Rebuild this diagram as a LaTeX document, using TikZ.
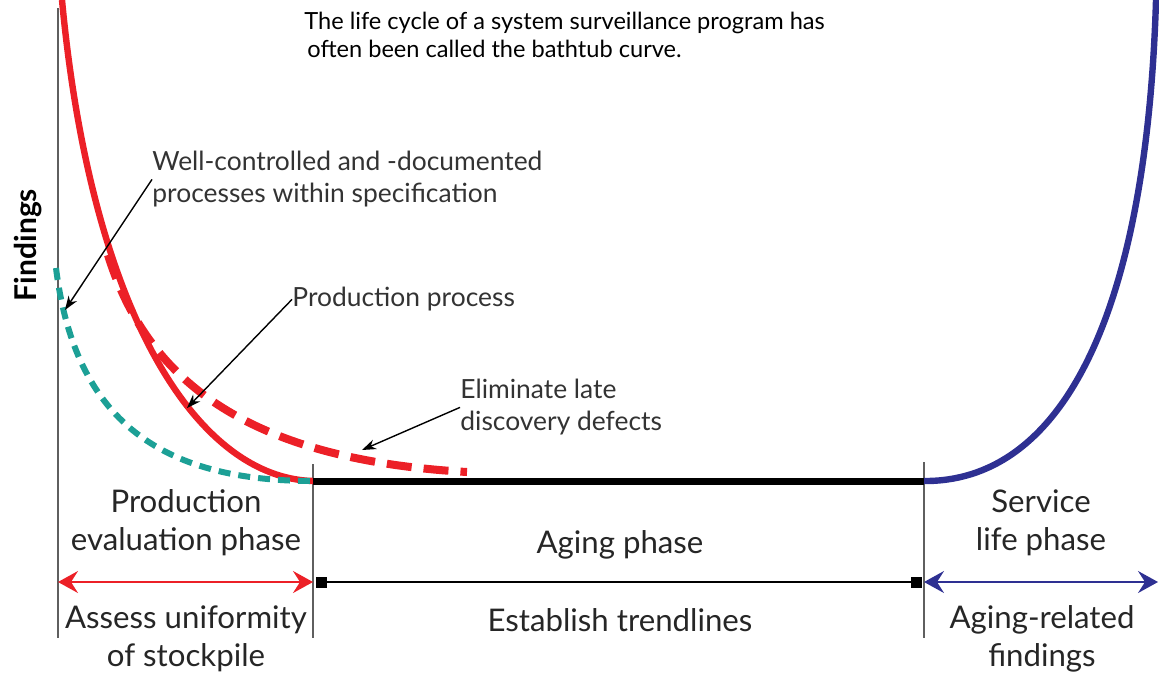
\documentclass[tikz,border=0pt]{standalone}
\usepackage{fontspec}
\setmainfont{Lato}
\usetikzlibrary{positioning,calc,arrows.meta}
\definecolor{bathred}{RGB}{236,32,39}
\definecolor{bathteal}{RGB}{28,160,150}
\definecolor{bathblue}{RGB}{46,48,146}
\definecolor{axisgray}{RGB}{95,95,95}

\begin{document}
\begin{tikzpicture}[x=0.5pt,y=-0.5pt,
				phase/.style={align=center,inner sep=0pt,font=\fontsize{15.6}{19}\selectfont,text=black!85},
				note/.style={align=left,inner sep=0pt,anchor=north west,font=\fontsize{13.2}{16}\selectfont,text=black!80},
				divider/.style={draw=axisgray,line width=1pt},
				callout/.style={draw=black,line width=0.7pt,-{Stealth[length=7pt,width=5pt]}},
				span/.style={line width=1pt,{Stealth[length=10pt,width=11pt,inset=3.5pt]}-{Stealth[length=10pt,width=11pt,inset=3.5pt]}},
				endbox/.style={fill=black,minimum size=5.5pt,inner sep=0pt,outer sep=0pt}]
				\useasboundingbox (0,0) rectangle (1159,675);
				
				% axis and phase dividers
				\coordinate (AXtop) at (58,8);
				\coordinate (AXbot) at (58,638);
				\coordinate (D1top) at (313,464);
				\coordinate (D1bot) at (313,638);
				\coordinate (D2top) at (924,462);
				\coordinate (D2bot) at (924,638);
				\draw[divider] (AXtop) -- (AXbot);
				\draw[divider] (D1top) -- (D1bot);
				\draw[divider] (D2top) -- (D2bot);
				
				% bathtub curves
				\draw[bathred,line width=3.2pt] (62,0) .. controls (92,320) and (200,478) .. (313,481);
				\draw[bathteal,line width=3pt,dash pattern=on 6pt off 4pt] (56,268) .. controls (75,420) and (160,481) .. (313,481);
				\draw[bathred,line width=4pt,dash pattern=on 12.5pt off 6pt] (108,255) .. controls (150,390) and (260,460) .. (467,472);
				\draw[line width=3.5pt] (D1top |- 0,481) -- (D2top |- 0,481);
				\draw[bathblue,line width=3.2pt] (924,481) .. controls (1055,482) and (1146,330) .. (1156,0);
				
				\node[anchor=north west,align=left,inner sep=0pt,font=\fontsize{11.8}{14}\selectfont] (TITLE) at (304,12)
					{The life cycle of a system surveillance program has\\\hspace*{1.5pt}often been called the bathtub curve.};
				\node[rotate=90,inner sep=0pt,font=\bfseries\fontsize{15}{15}\selectfont] (FIND) at (28,245) {Findings};
				
				\node[note] (WELL) at (152,151) {Well-controlled and -documented\\processes within specification};
				\node[note] (PROC) at (292,287) {Production process};
				\node[note] (ELIM) at (460,379) {Eliminate late\\discovery defects};
				\coordinate (WELLtip) at (65,310);
				\coordinate (PROCtip) at (187,408);
				\coordinate (ELIMtip) at (362,450);
				\draw[callout] (WELL.west) -- (WELLtip);
				\draw[callout] (PROC.west) -- (PROCtip);
				\draw[callout] (ELIM.west) -- (ELIMtip);
				
				% phases
				\node[phase,anchor=north] (PEP) at (186,489) {Production\\evaluation phase};
				\node[phase]              (AGE) at (620,545) {Aging phase};
				\node[phase,anchor=north] (SLP) at (1041,489) {Service\\life phase};
				
				\coordinate (RL) at (58,582);
				\coordinate (RR) at (313,582);
				\coordinate (BL) at (924,582);
				\coordinate (BR) at (1158,582);
				\node[endbox] (SQL) at (321,582) {};
				\node[endbox] (SQR) at (916,582) {};
				\draw[bathred,span] (RL) -- (RR);
				\draw[line width=1pt] (SQL) -- (SQR);
				\draw[bathblue,span] (BL) -- (BR);
				
				\node[phase,anchor=north] (ASU) at (186,605) {Assess uniformity\\of stockpile};
				\node[phase]              (EST) at (620,620) {Establish trendlines};
				\node[phase,anchor=north] (ARF) at (1042,605) {Aging-related\\findings};
			\end{tikzpicture}
\end{document}
